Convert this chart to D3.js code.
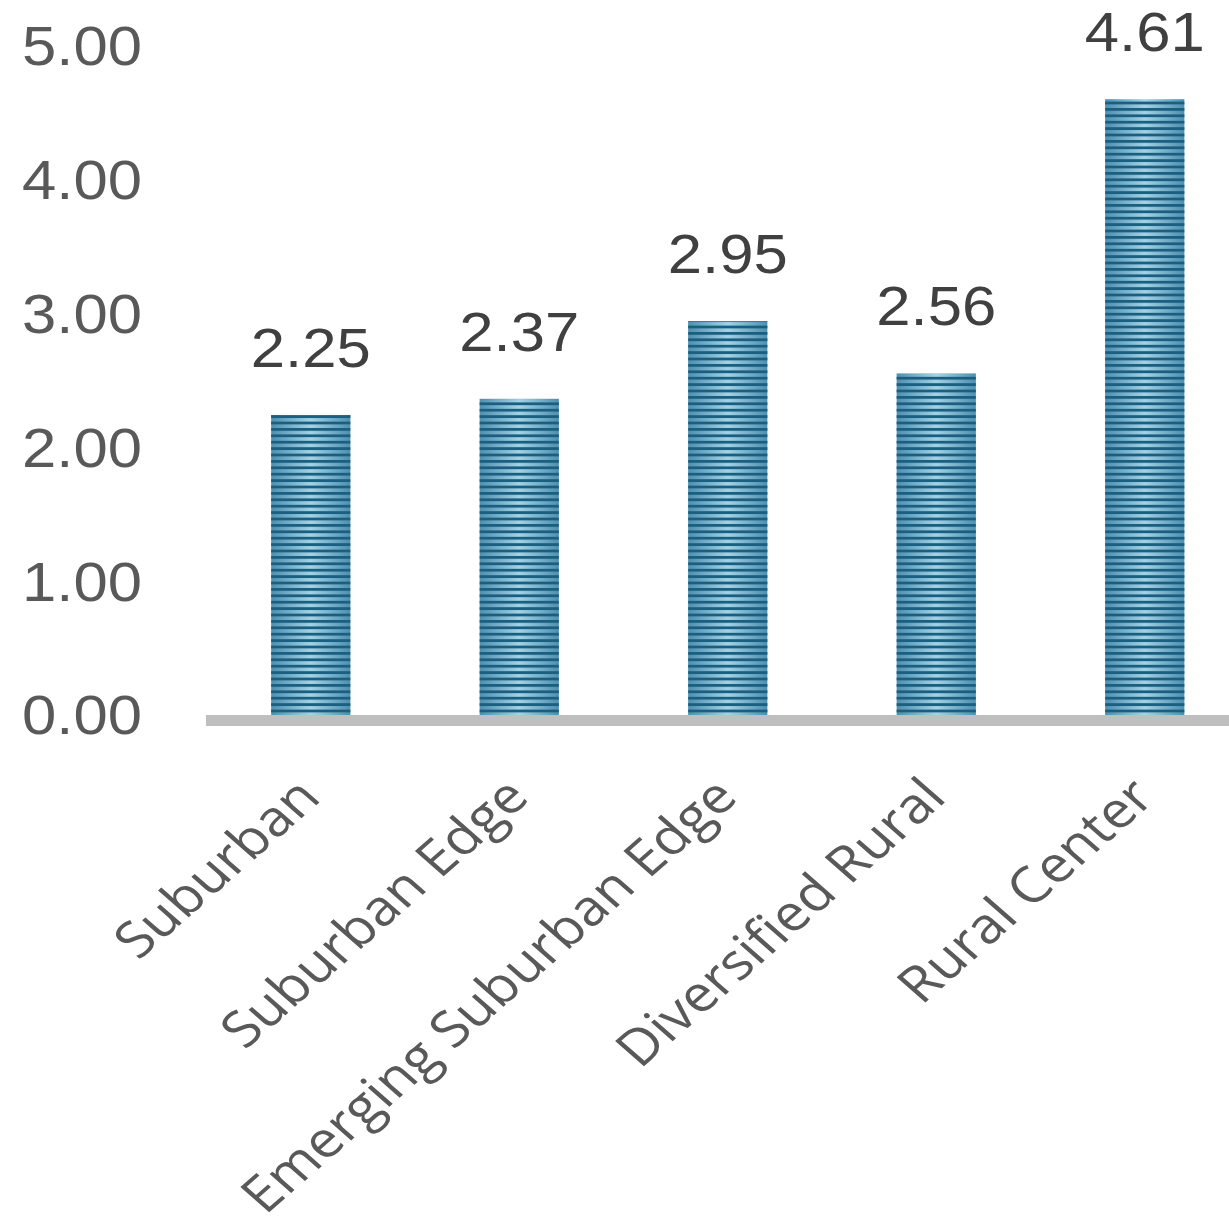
<!DOCTYPE html>
<html>
<head>
<meta charset="utf-8">
<script src="https://cdn.jsdelivr.net/npm/d3@7"></script>
<style>
  body { margin: 0; background: #fff; }
  text { font-family: "Liberation Sans", Arial, sans-serif; }
</style>
</head>
<body>
<div id="chart"></div>
<script>
const categories = ["Suburban", "Suburban Edge", "Emerging Suburban Edge", "Diversified Rural", "Rural Center"];
const values = [2.25, 2.37, 2.95, 2.56, 4.61];
const yTicks = [0, 1, 2, 3, 4, 5];

const W = 1229, H = 1227;
const baseY = 716, topY = 47;

let svg = d3.select("#chart")
    .append("svg")
    .attr("width", W)
    .attr("height", H);

// bar fill: horizontal gradient plus dark horizontal stripes
let defs = svg.append("defs");
let grad = defs.append("linearGradient")
    .attr("id", "barGrad")
    .attr("x1", "0").attr("x2", "1").attr("y1", "0").attr("y2", "0");
grad.append("stop").attr("offset", "0%").attr("stop-color", "#4f8fb0");
grad.append("stop").attr("offset", "50%").attr("stop-color", "#a3d3e6");
grad.append("stop").attr("offset", "100%").attr("stop-color", "#4f8fb0");

let stripes = defs.append("pattern")
    .attr("id", "stripes")
    .attr("patternUnits", "userSpaceOnUse")
    .attr("x", 0).attr("y", baseY)
    .attr("width", 10).attr("height", 6.4);
stripes.append("rect")
    .attr("x", 0).attr("y", 0)
    .attr("width", 10).attr("height", 2.8)
    .attr("fill", "#1b5f80");

// scales
let x = d3.scaleBand()
    .domain(categories)
    .range([206.5, 1249])
    .paddingInner(0.62)
    .paddingOuter(0.31);

let y = d3.scaleLinear()
    .domain([0, 5])
    .range([baseY, topY]);

// Y axis labels
let yAxis = svg.append("g")
    .attr("transform", "translate(142,0)")
    .call(d3.axisLeft(y).tickValues(yTicks).tickSize(0).tickPadding(0).tickFormat(d3.format(".2f")));
yAxis.select(".domain").remove();
yAxis.selectAll("text")
    .attr("x", 0)
    .attr("dy", "0.32em")
    .attr("transform", "scale(1.1,1)")
    .style("font-size", "56px")
    .style("font-family", "Liberation Sans, Arial, sans-serif")
    .attr("fill", "#595959");

// Bars
let bars = svg.append("g");
bars.selectAll(".bar")
    .data(values)
    .enter()
    .append("rect")
    .attr("class", "bar")
    .attr("x", (d, i) => x(categories[i]))
    .attr("y", d => y(d))
    .attr("width", x.bandwidth())
    .attr("height", d => baseY - y(d))
    .attr("fill", "url(#barGrad)");
bars.selectAll(".stripe")
    .data(values)
    .enter()
    .append("rect")
    .attr("class", "stripe")
    .attr("x", (d, i) => x(categories[i]))
    .attr("y", d => y(d))
    .attr("width", x.bandwidth())
    .attr("height", d => baseY - y(d))
    .attr("fill", "url(#stripes)");

// X axis line and category labels
let xAxis = svg.append("g")
    .attr("transform", "translate(0,720.5)")
    .call(d3.axisBottom(x).tickSize(0).tickSizeOuter(0));
xAxis.select(".domain")
    .attr("d", "M206,0H1229")
    .attr("stroke", "#bfbfbf")
    .attr("stroke-width", 11);
xAxis.selectAll("text")
    .attr("x", 0).attr("y", 0).attr("dy", 0)
    .attr("transform", "translate(12,79) scale(1.14,1) rotate(-45)")
    .style("text-anchor", "end")
    .style("font-size", "50px")
    .style("font-family", "Open Sans, sans-serif")
    .attr("fill", "#595959");

// Value labels
svg.append("g").selectAll("text")
    .data(values)
    .enter()
    .append("text")
    .attr("transform", (d, i) => "translate(" + (x(categories[i]) + x.bandwidth() / 2) + "," + (y(d) - 48) + ") scale(1.1,1)")
    .attr("text-anchor", "middle")
    .style("font-size", "56px")
    .attr("fill", "#404040")
    .text(d => d3.format(".2f")(d));
</script>
</body>
</html>
